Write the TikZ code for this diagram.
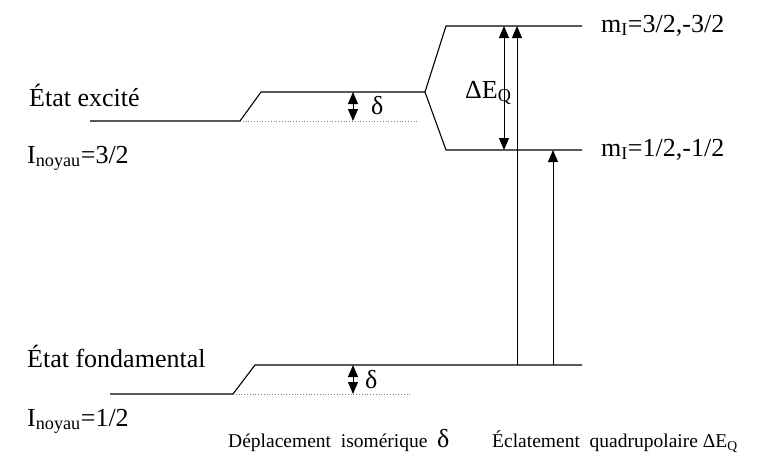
\documentclass[tikz,border=0pt]{standalone}
\usepackage{fontspec}
\setmainfont{Liberation Serif}
\usetikzlibrary{arrows.meta,positioning,calc}

\begin{document}
\begin{tikzpicture}[x=1pt,y=-1pt,
    level/.style={line width=1.1pt},
    guide/.style={gray, dotted, line width=0.8pt},
    uparrow/.style={line width=0.9pt, -{Triangle[length=12pt,width=10pt]}},
    twoway/.style={line width=0.9pt, {Triangle[length=12pt,width=10pt]}-{Triangle[length=12pt,width=10pt]}},
    biglabel/.style={font=\fontsize{26}{30}\selectfont, inner sep=0pt, anchor=base west},
    smalllabel/.style={font=\fontsize{19.5}{22}\selectfont, inner sep=0pt, anchor=base west}]
    \useasboundingbox (0,0) rectangle (763,456);

    % Excited state
    \coordinate (e0) at (90,121);
    \coordinate (e1) at (240,121);
    \coordinate (e2) at (261,92);
    \coordinate (e3) at (425,92);
    \coordinate (e4) at (446,26);
    \coordinate (e5) at (582,26);
    \coordinate (e6) at (446,150);
    \coordinate (e7) at (582,150);
    \coordinate (eend) at (417,121);
    \draw[level] (e0) -- (e1) -- (e2) -- (e3) -- (e4) -- (e5);
    \draw[level] (e3) -- (e6) -- (e7);
    \draw[guide] (e1) -- (eend);
    \draw[twoway] (353,92) -- (353,121);
    \node[biglabel] (dexc) at (371,114) {δ};

    % Ground state
    \coordinate (g0) at (110,394);
    \coordinate (g1) at (233,394);
    \coordinate (g2) at (255,365);
    \coordinate (g3) at (582,365);
    \coordinate (gend) at (410,394);
    \draw[level] (g0) -- (g1) -- (g2) -- (g3);
    \draw[guide] (g1) -- (gend);
    \draw[twoway] (353,365) -- (353,394);
    \node[biglabel] (dgnd) at (365,388) {δ};

    % Transitions
    \draw[uparrow] (517,365) -- (517,26);
    \draw[uparrow] (553,365) -- (553,150);
    \draw[twoway] (504,26) -- (504,150);
    \node[biglabel] (deq) at (465,98) {ΔE\textsubscript{Q}};

    % Labels
    \node[biglabel] (mtop) at (601,32) {m\textsubscript{I}=3/2,-3/2};
    \node[biglabel] (mbot) at (601,156) {m\textsubscript{I}=1/2,-1/2};
    \node[biglabel] (exc) at (29,106) {État excité};
    \node[biglabel] (iexc) at (27,163) {I\textsubscript{noyau}=3/2};
    \node[biglabel] (gnd) at (27,367) {État fondamental};
    \node[biglabel] (ignd) at (27,426) {I\textsubscript{noyau}=1/2};
    \node[smalllabel] (isomer) at (228,447) {Déplacement\ \ isomérique\ \ {\fontsize{26}{30}\selectfont δ}};
    \node[smalllabel] (quad) at (492,447) {Éclatement\ \ quadrupolaire ΔE\textsubscript{Q}};
\end{tikzpicture}
\end{document}
